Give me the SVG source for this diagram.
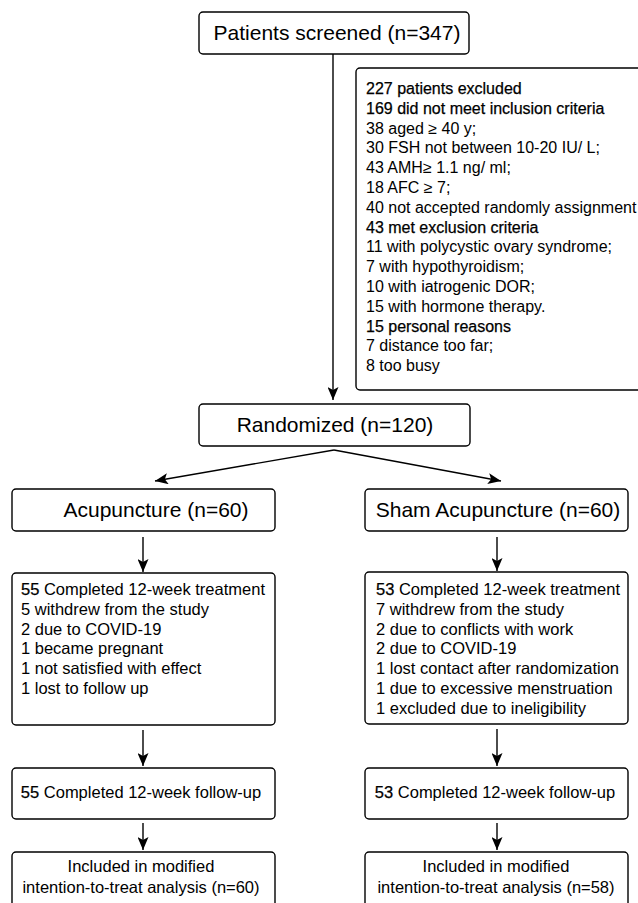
<svg xmlns="http://www.w3.org/2000/svg" width="638" height="903" viewBox="0 0 638 903">
<style>
.box{fill:#fff;stroke:#000;stroke-width:1.4}
.t{font-family:"Liberation Sans",Arial,sans-serif;fill:#000}
.big{font-size:21px}
.mid{font-size:16.5px}
.sm{font-size:16px}
.b{stroke:#000;stroke-width:0.25}
.c{text-anchor:middle}
.ln{fill:none;stroke:#000;stroke-width:1.4}
</style>
<defs>
<marker id="ah" markerUnits="userSpaceOnUse" markerWidth="13" markerHeight="11" refX="13" refY="5.5" orient="auto">
<path d="M0,0 L13,5.5 L0,11 L3,5.5 z" fill="#000"/>
</marker>
</defs>
<g id="connectors">
<line class="ln" x1="333" y1="54" x2="333" y2="400" marker-end="url(#ah)"/>
<line class="ln" x1="334" y1="450" x2="155" y2="481" marker-end="url(#ah)"/>
<line class="ln" x1="334" y1="450" x2="501" y2="481" marker-end="url(#ah)"/>
<line class="ln" x1="143" y1="537" x2="143" y2="572" marker-end="url(#ah)"/>
<line class="ln" x1="497" y1="537" x2="497" y2="571" marker-end="url(#ah)"/>
<line class="ln" x1="143" y1="730" x2="143" y2="766" marker-end="url(#ah)"/>
<line class="ln" x1="497" y1="729" x2="497" y2="766" marker-end="url(#ah)"/>
<line class="ln" x1="143" y1="823" x2="143" y2="850" marker-end="url(#ah)"/>
<line class="ln" x1="497" y1="823" x2="497" y2="850" marker-end="url(#ah)"/>
</g>
<g id="screened">
<rect class="box" x="199" y="12" width="270" height="42" rx="4"/>
<text class="t big c" x="337" y="40">Patients screened (n=347)</text>
</g>
<g id="excluded">
<rect class="box" x="356" y="68" width="340" height="322" rx="4"/>
<text class="t sm" x="366" y="94">
<tspan class="b" x="366" y="94">227 patients excluded</tspan>
<tspan class="b" x="366" y="113.8">169 did not meet inclusion criteria</tspan>
<tspan x="366" y="133.6">38 aged ≥ 40 y;</tspan>
<tspan x="366" y="153.4">30 FSH not between 10-20 IU/ L;</tspan>
<tspan x="366" y="173.2">43 AMH≥ 1.1 ng/ ml;</tspan>
<tspan x="366" y="193">18 AFC ≥ 7;</tspan>
<tspan x="366" y="212.8">40 not accepted randomly assignment</tspan>
<tspan class="b" x="366" y="232.6">43 met exclusion criteria</tspan>
<tspan x="366" y="252.4">11 with polycystic ovary syndrome;</tspan>
<tspan x="366" y="272.2">7 with hypothyroidism;</tspan>
<tspan x="366" y="292">10 with iatrogenic DOR;</tspan>
<tspan x="366" y="311.8">15 with hormone therapy.</tspan>
<tspan class="b" x="366" y="331.6">15 personal reasons</tspan>
<tspan x="366" y="351.4">7 distance too far;</tspan>
<tspan x="366" y="371.2">8 too busy</tspan>
</text>
</g>
<g id="randomized">
<rect class="box" x="199" y="404" width="271" height="42" rx="4"/>
<text class="t big c" x="335" y="432">Randomized (n=120)</text>
</g>
<g id="acupuncture">
<rect class="box" x="12" y="489" width="263" height="42" rx="4"/>
<text class="t big c" x="156" y="517">Acupuncture (n=60)</text>
</g>
<g id="sham">
<rect class="box" x="365" y="489" width="263" height="42" rx="4"/>
<text class="t big c" x="498" y="517">Sham Acupuncture (n=60)</text>
</g>
<g id="acu-treatment">
<rect class="box" x="12" y="573" width="263" height="152" rx="4"/>
<text class="t mid" x="21" y="595">
<tspan x="21" y="595"><tspan class="b">55</tspan> Completed 12-week treatment</tspan>
<tspan x="21" y="614.8">5 withdrew from the study</tspan>
<tspan x="21" y="634.6">2 due to COVID-19</tspan>
<tspan x="21" y="654.4">1 became pregnant</tspan>
<tspan x="21" y="674.2">1 not satisfied with effect</tspan>
<tspan x="21" y="694">1 lost to follow up</tspan>
</text>
</g>
<g id="sham-treatment">
<rect class="box" x="365" y="572" width="263" height="152" rx="4"/>
<text class="t mid" x="376" y="595">
<tspan x="376" y="595"><tspan class="b">53</tspan> Completed 12-week treatment</tspan>
<tspan x="376" y="614.8">7 withdrew from the study</tspan>
<tspan x="376" y="634.6">2 due to conflicts with work</tspan>
<tspan x="376" y="654.4">2 due to COVID-19</tspan>
<tspan x="376" y="674.2">1 lost contact after randomization</tspan>
<tspan x="376" y="694">1 due to excessive menstruation</tspan>
<tspan x="376" y="713.8">1 excluded due to ineligibility</tspan>
</text>
</g>
<g id="acu-followup">
<rect class="box" x="12" y="768" width="263" height="51" rx="4"/>
<text class="t mid c" x="141" y="798"><tspan class="b">55</tspan> Completed 12-week follow-up</text>
</g>
<g id="sham-followup">
<rect class="box" x="365" y="768" width="263" height="51" rx="4"/>
<text class="t mid c" x="495" y="798"><tspan class="b">53</tspan> Completed 12-week follow-up</text>
</g>
<g id="acu-itt">
<rect class="box" x="12" y="852" width="263" height="70" rx="4"/>
<text class="t mid c" x="141" y="872">Included in modified</text>
<text class="t mid c" x="141" y="893">intention-to-treat analysis (n=60)</text>
</g>
<g id="sham-itt">
<rect class="box" x="365" y="852" width="263" height="70" rx="4"/>
<text class="t mid c" x="496" y="872">Included in modified</text>
<text class="t mid c" x="496" y="893">intention-to-treat analysis (n=58)</text>
</g>
</svg>
